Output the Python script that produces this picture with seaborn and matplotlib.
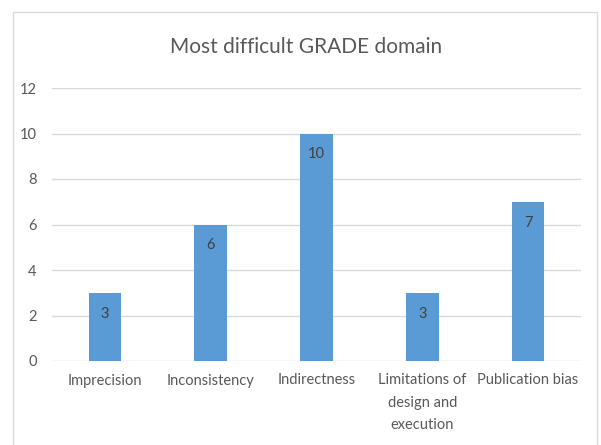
import matplotlib
matplotlib.use("Agg")
import matplotlib.pyplot as plt
import seaborn as sns
import pandas as pd
from matplotlib.patches import Rectangle

domains = ["Imprecision", "Inconsistency", "Indirectness",
           "Limitations of\ndesign and\nexecution", "Publication bias"]
counts = [3, 6, 10, 3, 7]
y_ticks = [0, 2, 4, 6, 8, 10, 12]

sns.set_theme(style="white")
plt.rcParams["font.family"] = ["Lato", "DejaVu Sans"]

df = pd.DataFrame({"domain": domains, "count": counts})

W, H = 601, 445
fig = plt.figure(figsize=(W / 100, H / 100), dpi=100)
ax = fig.add_axes([52 / W, 84 / H, (581 - 52) / W, (361 - 88) / H])

sns.barplot(data=df, x="domain", y="count", color="#5B9BD5",
            saturation=1, width=0.31, linewidth=0, ax=ax, zorder=3)

ax.set_ylim(0, 12)
ax.set_yticks(y_ticks)
ax.set_yticklabels([str(t) for t in y_ticks])
ax.yaxis.grid(True, color="#D9D9D9", linewidth=1, zorder=0)
ax.set_axisbelow(True)
for s in ax.spines.values():
    s.set_visible(False)
ax.set_xlabel("")
ax.set_ylabel("")
ax.tick_params(axis="y", length=0, pad=11, labelsize=10.5, labelcolor="#595959")
ax.tick_params(axis="x", length=0, pad=9, labelsize=10.5, labelcolor="#595959")
for lbl in ax.get_xticklabels():
    lbl.set_linespacing(1.75)

# value labels just inside the top of each bar
for container in ax.containers:
    ax.bar_label(container, labels=[str(v) for v in counts], label_type="edge",
                 padding=-20, fontsize=10.5, color="#404040")

fig.text(306 / W, 1 - 47 / H, "Most difficult GRADE domain", ha="center",
         va="center", fontsize=15, color="#595959")

# outer chart frame
fig.patches.append(Rectangle((12.5 / W, -0.05), (597 - 12.5) / W, 1.05 - 12.5 / H,
                             transform=fig.transFigure, fill=False,
                             edgecolor="#D9D9D9", linewidth=1))

fig.savefig("out.png", dpi=100, facecolor="white")
